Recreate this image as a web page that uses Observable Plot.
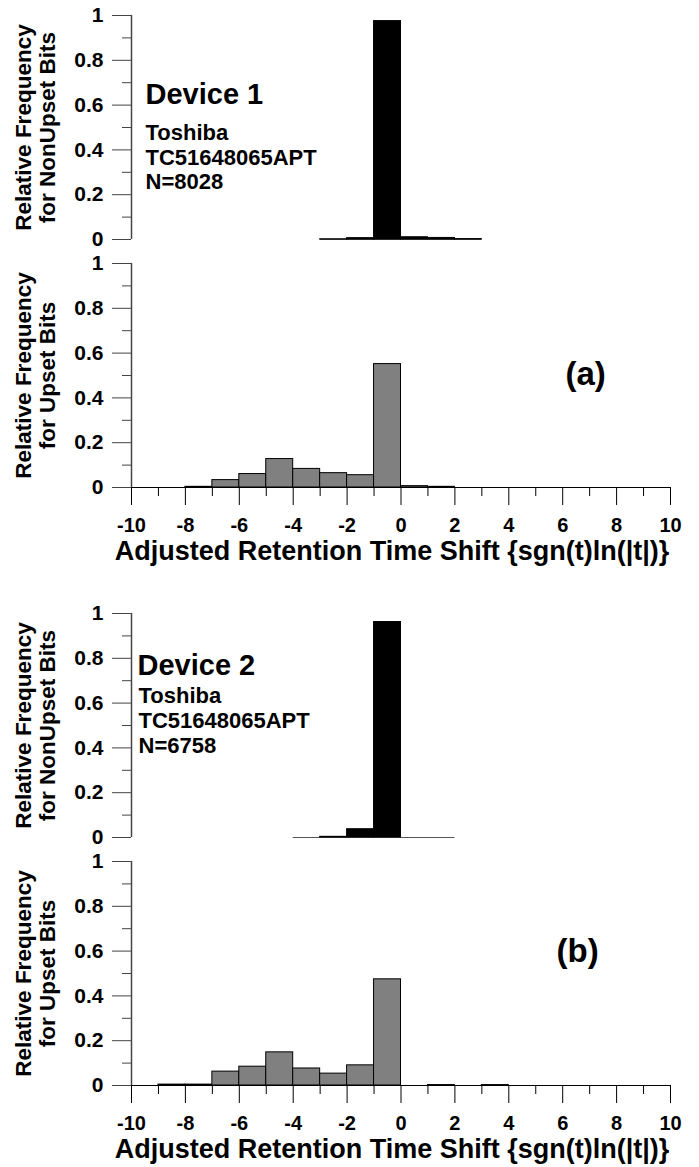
<!DOCTYPE html>
<html><head><meta charset="utf-8">
<script src="https://cdn.jsdelivr.net/npm/d3@7"></script>
<script src="https://cdn.jsdelivr.net/npm/@observablehq/plot@0.6"></script>
<style>
body{margin:0;background:#fff}
#chart svg{display:block}
</style>
</head><body><div id="chart"></div>
<script>
// ---- data (bin left edges, bin width 1) ----
const dev1NonUpsetBins = [-3, -2, -1, 0, 1, 2];
const dev1NonUpsetFreq = [0.001, 0.006, 0.975, 0.010, 0.007, 0.002];
const dev1UpsetBins = [-10, -9, -8, -7, -6, -5, -4, -3, -2, -1, 0, 1];
const dev1UpsetFreq = [0, 0, 0.003, 0.033, 0.060, 0.127, 0.083, 0.064, 0.055, 0.551, 0.006, 0.003];
const dev2NonUpsetBins = [-4, -3, -2, -1, 0, 1];
const dev2NonUpsetFreq = [0, 0.003, 0.037, 0.962, 0, 0];
const dev2UpsetBins = [-10, -9, -8, -7, -6, -5, -4, -3, -2, -1, 0, 1, 2, 3];
const dev2UpsetFreq = [0, 0.004, 0.004, 0.062, 0.084, 0.148, 0.076, 0.053, 0.090, 0.474, 0, 0.002, 0, 0.002];
const yMajorTicks = [0, 0.2, 0.4, 0.6, 0.8, 1];
const yMinorTicks = [0.1, 0.3, 0.5, 0.7, 0.9];
const xMajorTicks = [-10, -8, -6, -4, -2, 0, 2, 4, 6, 8, 10];
const xMinorTicks = [-9, -7, -5, -3, -1, 1, 3, 5, 7, 9];
const xTitle = "Adjusted Retention Time Shift {sgn(t)ln(|t|)}";
const yTitleNonUpset = "Relative Frequency\nfor NonUpset Bits";
const yTitleUpset = "Relative Frequency\nfor Upset Bits";
const device1Lines = ["Device 1", "Toshiba\nTC51648065APT\nN=8028"];
const device2Lines = ["Device 2", "Toshiba\nTC51648065APT\nN=6758"];
const panelLabels = ["(a)", "(b)"];

const FONT = "'Liberation Sans', Arial, Helvetica, sans-serif";
const W = 699, ML = 131, MR = 29;

function rows(bins, freq) {
  return bins.map((b, i) => ({x1: b, x2: b + 1, v: freq[i]}));
}

function panel({bins, freq, fill, height, mt, mb, xAxis, yTitle, extra}) {
  const data = rows(bins, freq);
  const marks = [
    // baseline under bars
    Plot.ruleY([0], {x1: d3.min(bins), x2: d3.max(bins) + 1, stroke: "#555", strokeWidth: 1.2}),
    Plot.rectY(data, {x1: "x1", x2: "x2", y: "v", fill, stroke: "#000", strokeWidth: 1}),
    Plot.ruleX([-10], {stroke: "#444", strokeWidth: 1.5}),
    Plot.axisY({ticks: yMajorTicks, tickSize: 19, tickPadding: 9, label: null, stroke: "#444",
      tickFormat: d => (d === 0 || d === 1) ? String(d) : d.toFixed(1),
      fontSize: 21, fontWeight: "bold", fill: "#000"}),
    Plot.axisY({ticks: yMinorTicks, tickSize: 9, label: null, stroke: "#444", tickFormat: () => ""}),
    Plot.text([yTitle], {text: d => d, frameAnchor: "left", dx: -96, rotate: -90, textAnchor: "middle",
      lineAnchor: "middle", lineHeight: 1.07, fontSize: 22.5, fontWeight: "bold", fill: "#000"})
  ];
  if (xAxis) {
    marks.push(
      Plot.ruleY([0], {stroke: "#000", strokeWidth: 1.2}),
      Plot.axisX({ticks: xMajorTicks, tickSize: 18, tickPadding: 12, label: null, stroke: "#000",
        tickFormat: d => `${d}`, fontSize: 20, fontWeight: "bold", fill: "#000"}),
      Plot.axisX({ticks: xMinorTicks, tickSize: 9, label: null, stroke: "#000", tickFormat: () => ""}),
      Plot.text([xTitle], {text: d => d, frameAnchor: "bottom", dy: 64, dx: -9, textAnchor: "middle",
        lineAnchor: "middle", fontSize: 27, fontWeight: "bold", fill: "#000"})
    );
  }
  if (extra) marks.push(...extra);
  return Plot.plot({
    width: W, height, marginLeft: ML, marginRight: MR, marginTop: mt, marginBottom: mb,
    x: {domain: [-10, 10], label: null, axis: xAxis ? undefined : null},
    y: {domain: [0, 1], label: null},
    style: {fontFamily: FONT, fontWeight: "bold", fontSize: "20px", background: "#fff", color: "#000"},
    marks
  });
}

const chart = document.getElementById("chart");

chart.append(panel({
  bins: dev1NonUpsetBins, freq: dev1NonUpsetFreq, fill: "#000",
  height: 251, mt: 15, mb: 12, xAxis: false, yTitle: yTitleNonUpset,
  extra: [
    Plot.text([device1Lines[0]], {text: d => d, frameAnchor: "top-left", dx: 14, dy: 79, textAnchor: "start",
      lineAnchor: "middle", fontSize: 29, fontWeight: "bold", fill: "#000"}),
    Plot.text([device1Lines[1]], {text: d => d, frameAnchor: "top-left", dx: 14, dy: 107.5, textAnchor: "start",
      lineAnchor: "top", lineHeight: 1.11, fontSize: 22, fontWeight: "bold", fill: "#000"})
  ]
}));

chart.append(panel({
  bins: dev1UpsetBins, freq: dev1UpsetFreq, fill: "#808080",
  height: 339, mt: 12, mb: 103, xAxis: true, yTitle: yTitleUpset,
  extra: [
    Plot.text([panelLabels[0]], {text: d => d, frameAnchor: "top-left", dx: 434, dy: 111, textAnchor: "start",
      lineAnchor: "middle", fontSize: 33, fontWeight: "bold", fill: "#000"})
  ]
}));

chart.append(panel({
  bins: dev2NonUpsetBins, freq: dev2NonUpsetFreq, fill: "#000",
  height: 259, mt: 23, mb: 12, xAxis: false, yTitle: yTitleNonUpset,
  extra: [
    Plot.text([device2Lines[0]], {text: d => d, frameAnchor: "top-left", dx: 6, dy: 52, textAnchor: "start",
      lineAnchor: "middle", fontSize: 29, fontWeight: "bold", fill: "#000"}),
    Plot.text([device2Lines[1]], {text: d => d, frameAnchor: "top-left", dx: 7, dy: 72, textAnchor: "start",
      lineAnchor: "top", lineHeight: 1.13, fontSize: 22, fontWeight: "bold", fill: "#000"})
  ]
}));

chart.append(panel({
  bins: dev2UpsetBins, freq: dev2UpsetFreq, fill: "#808080",
  height: 318, mt: 12, mb: 82, xAxis: true, yTitle: yTitleUpset,
  extra: [
    Plot.text([panelLabels[1]], {text: d => d, frameAnchor: "top-left", dx: 425, dy: 90, textAnchor: "start",
      lineAnchor: "middle", fontSize: 33, fontWeight: "bold", fill: "#000"})
  ]
}));
</script>
</body></html>
